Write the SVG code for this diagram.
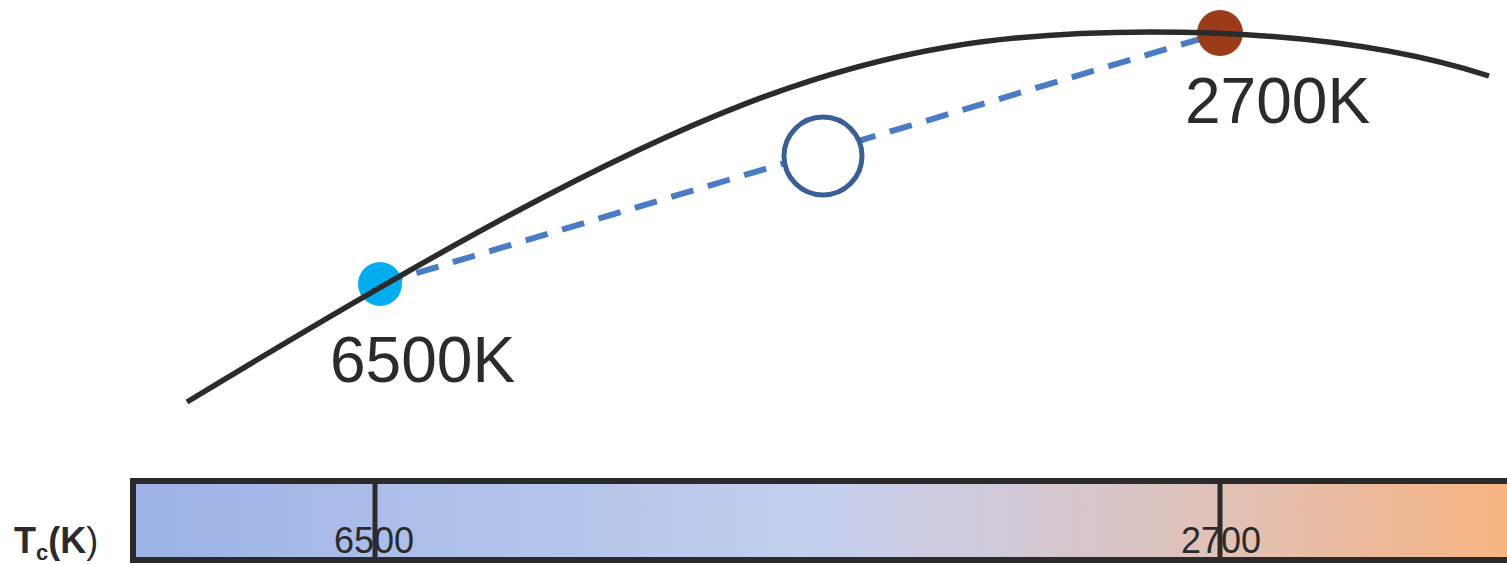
<svg xmlns="http://www.w3.org/2000/svg" width="1507" height="564" viewBox="0 0 1507 564">
  <defs>
    <linearGradient id="bargrad" x1="133" y1="0" x2="1507" y2="0" gradientUnits="userSpaceOnUse">
      <stop offset="0" stop-color="#9db3e6"/>
      <stop offset="0.5" stop-color="#c4cfee"/>
      <stop offset="0.63" stop-color="#d0c9d8"/>
      <stop offset="0.8" stop-color="#e2c1b4"/>
      <stop offset="1" stop-color="#f7b482"/>
    </linearGradient>
    <style>
      .lbl { font-family: "Liberation Sans", Arial, sans-serif; fill: #2b2b2b; }
      .big { font-size: 64px; }
      .tick { font-size: 36px; text-anchor: middle; }
    </style>
  </defs>

  <g id="connectors">
    <line x1="380" y1="284" x2="1220" y2="33" stroke="#4a7cc6" stroke-width="6" stroke-dasharray="23 15"/>
  </g>

  <g id="mix-point">
    <circle cx="823" cy="156" r="39" fill="#ffffff" stroke="#3a5f97" stroke-width="5"/>
  </g>

  <g id="node-6500">
    <circle cx="380" cy="284" r="22" fill="#00aeef"/>
    <text class="lbl big" x="330" y="382">6500K</text>
  </g>

  <g id="node-2700">
    <circle cx="1220" cy="33" r="23" fill="#9c3b17"/>
    <text class="lbl big" x="1185" y="123">2700K</text>
  </g>

  <g id="locus">
    <path d="M187,402 C690,97 860,32 1150,32 C1300,32 1409,50 1489,76" fill="none" stroke="#2b2b2b" stroke-width="5.5"/>
  </g>

  <g id="scale">
    <rect x="133" y="481" width="1400" height="79" fill="url(#bargrad)" stroke="#2b2b2b" stroke-width="6"/>
    <line x1="375" y1="481" x2="375" y2="560" stroke="#2b2b2b" stroke-width="5"/>
    <line x1="1220" y1="481" x2="1220" y2="560" stroke="#2b2b2b" stroke-width="5"/>
    <text class="lbl tick" x="374" y="553">6500</text>
    <text class="lbl tick" x="1221" y="553">2700</text>
    <text class="lbl" x="14" y="553" font-size="36"><tspan font-weight="bold">T</tspan><tspan font-weight="bold" font-size="22" dy="7">c</tspan><tspan font-weight="bold" dy="-7">(K</tspan><tspan>)</tspan></text>
  </g>
</svg>
